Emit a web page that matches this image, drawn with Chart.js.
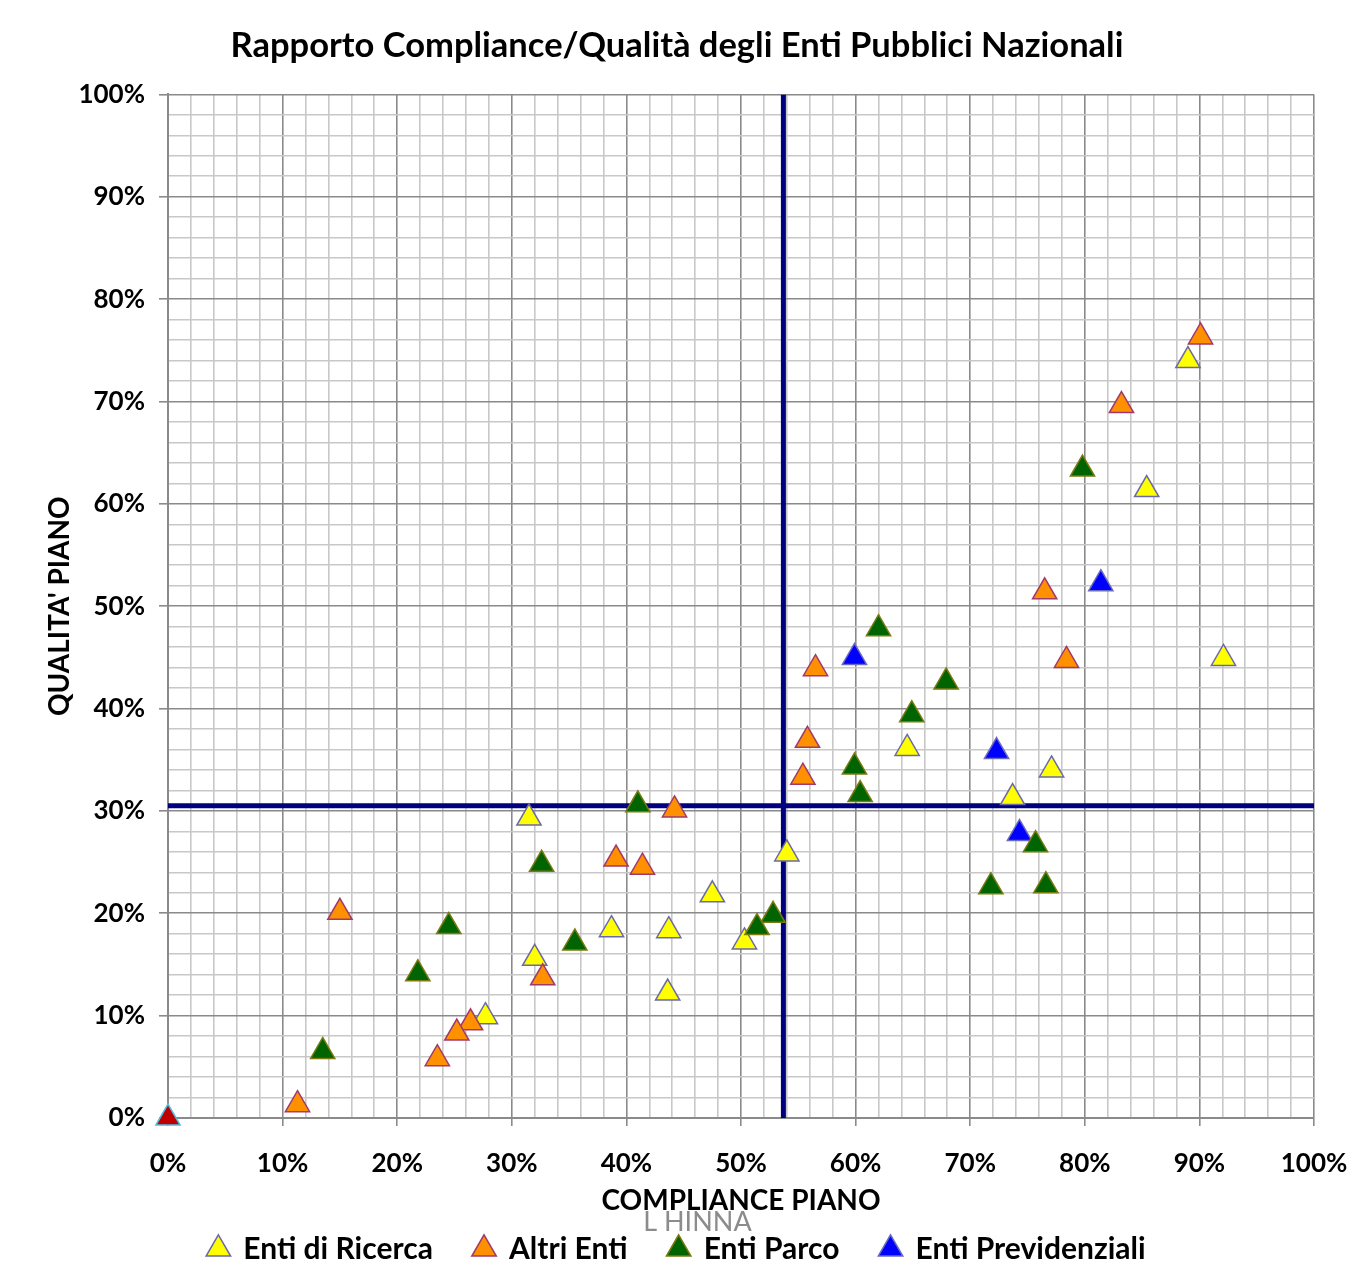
<!DOCTYPE html>
<html>
<head>
<meta charset="utf-8">
<script src="https://cdn.jsdelivr.net/npm/chart.js@4"></script>
<style>
  body { margin: 0; background: #fff; }
  #wrap { width: 1359px; height: 1282px; position: relative; }
</style>
</head>
<body>
<div id="wrap"><canvas id="scatterChart"></canvas></div>
<script>
// Values (percent)
const ricercaX = [89.0, 85.4, 92.1, 64.5, 77.1, 73.7, 54.0, 31.5, 47.5, 38.7, 43.7, 50.3, 32.0, 43.6, 27.7];
const ricercaY = [74.0, 61.4, 44.9, 36.1, 34.0, 31.3, 25.8, 29.3, 21.8, 18.4, 18.3, 17.2, 15.6, 12.2, 9.9];

const altriX = [90.1, 83.2, 76.5, 78.4, 56.5, 55.8, 55.4, 44.2, 39.1, 41.4, 15.0, 32.7, 26.4, 25.2, 23.5, 11.3];
const altriY = [76.3, 69.6, 51.4, 44.7, 43.9, 36.9, 33.3, 30.1, 25.3, 24.5, 20.1, 13.7, 9.3, 8.3, 5.8, 1.3];

const parcoX = [79.8, 62.0, 67.9, 64.9, 59.9, 60.4, 41.0, 32.6, 75.7, 71.8, 76.6, 24.5, 35.5, 52.8, 51.4, 21.8, 13.5];
const parcoY = [63.4, 47.8, 42.6, 39.4, 34.3, 31.6, 30.6, 24.8, 26.7, 22.6, 22.7, 18.7, 17.1, 19.8, 18.6, 14.1, 6.5];

const previdX = [81.4, 59.9, 72.3, 74.3];
const previdY = [52.2, 45.0, 35.8, 27.8];

const originX = [0];
const originY = [0];

// average lines
const meanCompliance = 53.7;
const meanQualita = 30.5;

const axisTicks = [0, 10, 20, 30, 40, 50, 60, 70, 80, 90, 100];

function toPoints(xs, ys) {
    return xs.map((x, i) => ({ x: x, y: ys[i] }));
}

const fontFamily = 'Lato, "Open Sans", sans-serif';

const datasets = [
    {
        label: 'Enti di Ricerca',
        data: toPoints(ricercaX, ricercaY),
        backgroundColor: '#ffff00',
        borderColor: '#6a6aa8',
        order: 4
    },
    {
        label: 'Altri Enti',
        data: toPoints(altriX, altriY),
        backgroundColor: '#ff9000',
        borderColor: '#a03a6a',
        order: 3
    },
    {
        label: 'Enti Parco',
        data: toPoints(parcoX, parcoY),
        backgroundColor: '#006400',
        borderColor: '#7a7a10',
        order: 1
    },
    {
        label: 'Enti Previdenziali',
        data: toPoints(previdX, previdY),
        backgroundColor: '#0000ff',
        borderColor: '#6a6ac0',
        order: 2
    },
    {
        label: '',
        data: toPoints(originX, originY),
        backgroundColor: '#c00000',
        borderColor: '#4bc0e0',
        order: 0
    },
    {
        label: '',
        data: [{ x: meanCompliance, y: 0 }, { x: meanCompliance, y: 100 }],
        showLine: true,
        borderColor: '#000080',
        borderWidth: 5,
        pointRadius: 0,
        order: 10
    },
    {
        label: '',
        data: [{ x: 0, y: meanQualita }, { x: 100, y: meanQualita }],
        showLine: true,
        borderColor: '#000080',
        borderWidth: 5,
        pointRadius: 0,
        order: 10
    }
];

// point style for the marker series
datasets.forEach(ds => {
    if (!ds.showLine) {
        ds.pointStyle = 'triangle';
        ds.pointRadius = 14;
        ds.pointHoverRadius = 14;
        ds.pointBorderWidth = 1.5;
        ds.clip = false;
    }
});

// draws the small grey signature under the axis title
const signaturePlugin = {
    id: 'signature',
    afterDraw(chart) {
        const c = chart.ctx;
        c.save();
        c.font = '27px ' + fontFamily;
        c.fillStyle = '#8c8c8c';
        c.textAlign = 'center';
        c.textBaseline = 'middle';
        c.fillText('L HINNA', chart.scales.x.getPixelForValue(46.2), 1222);
        c.restore();
    }
};

function gridColor(ctx) {
    if (!ctx.tick) return '#c8c8c8';
    return axisTicks.includes(Math.round(ctx.tick.value)) ? '#8a8a8a' : '#c8c8c8';
}

function tickColor(ctx) {
    if (!ctx.tick) return 'transparent';
    return axisTicks.includes(Math.round(ctx.tick.value)) ? '#8a8a8a' : 'transparent';
}

function tickLabel(value) {
    return axisTicks.includes(Math.round(value)) ? Math.round(value) + '%' : '';
}

// legend items, with some extra room after each label but the last
function legendLabels(chart) {
    const items = Chart.defaults.plugins.legend.labels.generateLabels(chart);
    items.forEach(item => {
        if (item.text && item.datasetIndex < 3) item.text = item.text + '    ';
    });
    return items;
}

const ctx = document.getElementById('scatterChart').getContext('2d');
const chart = new Chart(ctx, {
    type: 'scatter',
    data: { datasets: datasets },
    plugins: [signaturePlugin],
    options: {
        responsive: true,
        maintainAspectRatio: false,
        animation: false,
        layout: { padding: { top: 0, right: 45, bottom: 8, left: 40 } },
        scales: {
            x: {
                min: 0,
                max: 100,
                afterFit: s => {
                    s.height = 104;
                    s.paddingRight = 0;
                    s.paddingLeft = 0;
                },
                ticks: {
                    stepSize: 2,
                    autoSkip: false,
                    maxRotation: 0,
                    padding: 22,
                    color: '#000',
                    font: { family: fontFamily, size: 26, weight: 'bold' },
                    callback: tickLabel
                },
                grid: { color: gridColor, tickColor: tickColor, lineWidth: 1.6, tickLength: 8 },
                border: { color: '#8a8a8a', width: 2 },
                title: {
                    display: true,
                    text: 'COMPLIANCE PIANO',
                    color: '#000',
                    padding: { top: 0, bottom: 4 },
                    font: { family: fontFamily, size: 28, weight: 'bold' }
                }
            },
            y: {
                min: 0,
                max: 100,
                afterFit: s => { s.width = 128; },
                ticks: {
                    stepSize: 2,
                    autoSkip: false,
                    padding: 14,
                    color: '#000',
                    font: { family: fontFamily, size: 26, weight: 'bold' },
                    callback: tickLabel
                },
                grid: { color: gridColor, tickColor: tickColor, lineWidth: 1.6, tickLength: 9 },
                border: { color: '#8a8a8a', width: 2 },
                title: {
                    display: true,
                    text: "QUALITA' PIANO",
                    color: '#000',
                    padding: { top: 3, bottom: 0 },
                    font: { family: fontFamily, size: 28, weight: 'bold' }
                }
            }
        },
        plugins: {
            title: {
                display: true,
                text: 'Rapporto Compliance/Qualità degli Enti Pubblici Nazionali',
                color: '#000',
                padding: { top: 25, bottom: 28 },
                font: { family: fontFamily, size: 34.5, weight: 'bold' }
            },
            legend: {
                position: 'bottom',
                labels: {
                    usePointStyle: true,
                    pointStyle: 'triangle',
                    boxWidth: 20,
                    boxHeight: 20,
                    padding: 12,
                    color: '#000',
                    font: { family: fontFamily, size: 30, weight: 'bold' },
                    generateLabels: legendLabels,
                    filter: item => item.text !== '',
                    sort: (a, b) => a.datasetIndex - b.datasetIndex
                }
            },
            tooltip: { enabled: false }
        }
    }
});
</script>
</body>
</html>
